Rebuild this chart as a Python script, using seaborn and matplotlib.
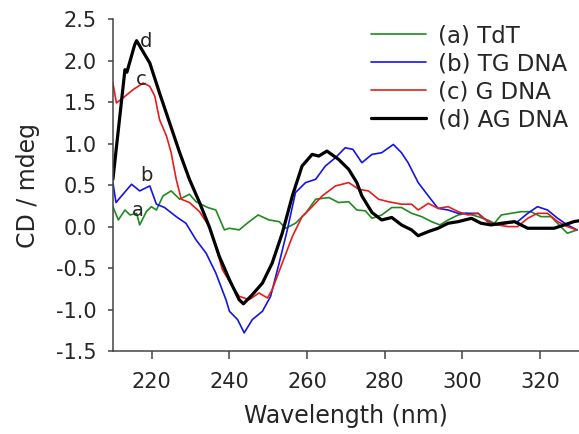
import matplotlib
matplotlib.use('Agg')
import matplotlib.pyplot as plt
import pandas as pd
import seaborn as sns

# (a) TdT
tdt_wl = [210, 211.4, 213.1, 214.4, 216.1, 216.9, 218.6, 219.9, 221.2, 222.9, 225, 227.2, 229.7, 231.4,
          234.4, 236.5, 238.7, 240, 242.5, 245.1, 247.4, 250.2, 252.8, 254.5, 257, 259.6, 262.2, 265.6,
          268.1, 270.7, 272.8, 275, 276.7, 279.2, 281.8, 284.3, 286.9, 289.5, 292, 294.2, 296.3, 298.9,
          301, 304, 306.5, 308.2, 310, 312.5, 315.1, 317.6, 320.2, 322.8, 325.3, 327, 329.5]
tdt_cd = [0.24, 0.08, 0.20, 0.14, 0.16, 0.02, 0.18, 0.24, 0.20, 0.37, 0.43, 0.33, 0.39, 0.30,
          0.23, 0.20, -0.04, -0.02, -0.04, 0.06, 0.14, 0.08, 0.06, -0.02, 0.04, 0.16, 0.33, 0.35,
          0.29, 0.30, 0.20, 0.19, 0.10, 0.14, 0.23, 0.23, 0.16, 0.12, 0.06, 0.02, 0.08, 0.14,
          0.16, 0.12, 0.08, 0.04, 0.14, 0.16, 0.18, 0.18, 0.12, 0.12, 0.0, -0.08, -0.04]

# (b) TG DNA
tg_wl = [210, 210.8, 212.6, 214.8, 216.9, 219.5, 221.2, 223.3, 226.3, 228.8, 231.4, 234, 236.5, 239.1,
         240, 242.1, 243.8, 245.9, 248.5, 250.6, 252.8, 254.9, 257, 259.6, 262.2, 264.7, 267.3, 269.8,
         271.8, 274.1, 276.7, 279.2, 282.2, 284.3, 286, 288.6, 291.2, 293.7, 296.3, 298.9, 301.4, 304,
         306.5, 309.1, 311.7, 314.2, 316.8, 319.3, 321.9, 324.5, 327, 329.5]
tg_cd = [0.53, 0.29, 0.39, 0.51, 0.43, 0.49, 0.27, 0.23, 0.12, 0.04, -0.16, -0.32, -0.56, -0.88,
         -1.02, -1.12, -1.28, -1.12, -1.02, -0.84, -0.44, -0.04, 0.41, 0.53, 0.57, 0.73, 0.83, 0.95,
         0.93, 0.77, 0.87, 0.89, 0.99, 0.89, 0.77, 0.53, 0.37, 0.22, 0.20, 0.16, 0.16, 0.16,
         0.06, 0.02, 0.04, 0.06, 0.16, 0.24, 0.20, 0.10, 0.02, -0.04]

# (c) G DNA
g_wl = [210, 210.9, 212.6, 215.2, 217.8, 219.5, 220.8, 222, 223.8, 225, 226.3, 227.6, 229.7, 232.3,
        234.8, 236.5, 238.2, 240.8, 242.5, 245.1, 247.6, 249.8, 251, 253.6, 256.2, 258.7, 261.3, 263.9,
        267.3, 270.7, 273.3, 275.8, 278.4, 280.9, 284.3, 286.9, 288.6, 291.2, 293.7, 296.3, 298.9, 301.4,
        304, 306.5, 309.1, 311.7, 314.2, 316.8, 319.3, 321.9, 324.5, 327, 329.5]
g_cd = [1.73, 1.49, 1.55, 1.65, 1.73, 1.69, 1.57, 1.29, 1.09, 0.89, 0.57, 0.33, 0.29, 0.18,
        0.0, -0.24, -0.52, -0.72, -0.84, -0.88, -0.80, -0.86, -0.76, -0.44, -0.12, 0.12, 0.24, 0.37,
        0.49, 0.53, 0.45, 0.43, 0.33, 0.30, 0.27, 0.27, 0.20, 0.28, 0.22, 0.24, 0.18, 0.14,
        0.16, 0.06, 0.02, 0.0, 0.0, 0.10, 0.16, 0.16, 0.06, 0.0, -0.04]

# (d) AG DNA
ag_wl = [210, 213.1, 213.6, 215.6, 216.1, 219.5, 222, 224.6, 227.2, 229.7, 232.3, 234.8, 237.4, 240,
         242.5, 243.6, 245.9, 248.5, 251, 253.6, 256.2, 258.7, 261.3, 263, 265.1, 268.1, 270.7, 272.8,
         274.1, 276.7, 279.2, 281.8, 284.3, 286.9, 288.6, 291.2, 293.7, 296.3, 298.9, 302.3, 304.8, 307.4,
         310, 313.4, 316.8, 320.2, 323.6, 326.2, 328.7, 330]
ag_cd = [0.57, 1.89, 1.86, 2.19, 2.24, 1.97, 1.61, 1.25, 0.89, 0.57, 0.29, 0.0, -0.36, -0.64,
         -0.88, -0.93, -0.82, -0.68, -0.44, -0.08, 0.37, 0.73, 0.87, 0.85, 0.91, 0.81, 0.69, 0.53,
         0.37, 0.17, 0.08, 0.11, 0.02, -0.04, -0.11, -0.06, -0.02, 0.04, 0.06, 0.10, 0.04, 0.02,
         0.04, 0.06, -0.02, -0.02, -0.02, 0.02, 0.06, 0.07]

labels = ['(a) TdT', '(b) TG DNA', '(c) G DNA', '(d) AG DNA']
colors = ['#1f8a1f', '#1414e6', '#e81c1c', 'black']
widths = [1.2, 1.2, 1.2, 2.3]
# curve letters near the left peaks
letters = ['a', 'b', 'c', 'd']
letter_pos = [(216.5, 0.20), (218.6, 0.61), (217.3, 1.77), (218.6, 2.23)]

series = [(tdt_wl, tdt_cd), (tg_wl, tg_cd), (g_wl, g_cd), (ag_wl, ag_cd)]

sns.set_style('ticks')
plt.rcParams['font.family'] = ['DejaVu Sans']

fig = plt.figure(figsize=(5.79, 4.34), dpi=100)
ax = fig.add_axes([0.195, 0.191, 0.805, 0.765])

for (wl, cd), lab, col, lw in zip(series, labels, colors, widths):
    df = pd.DataFrame({'wl': wl, 'cd': cd})
    sns.lineplot(data=df, x='wl', y='cd', color=col, lw=lw, label=lab, ax=ax,
                 sort=False, estimator=None)

for t, (x, y) in zip(letters, letter_pos):
    ax.text(x, y, t, fontsize=14, ha='center', va='center')

ax.set_xlim(210, 330)
ax.set_ylim(-1.5, 2.5)
ax.set_xticks([220, 240, 260, 280, 300, 320])
ax.set_yticks([-1.5, -1.0, -0.5, 0.0, 0.5, 1.0, 1.5, 2.0, 2.5])
ax.set_yticklabels([f'{v:.1f}' for v in ax.get_yticks()])
ax.tick_params(labelsize=15, width=1.1, color='#444444')
ax.tick_params(axis='x', length=6, pad=9)
ax.tick_params(axis='y', length=3.6, pad=8)
ax.set_xlabel('Wavelength (nm)', fontsize=17, labelpad=9)
ax.set_ylabel('CD / mdeg', fontsize=17, labelpad=12)
sns.despine(ax=ax)
for s in ['left', 'bottom']:
    ax.spines[s].set_color('#444444')
    ax.spines[s].set_linewidth(1.1)

ax.legend(loc='upper left', bbox_to_anchor=(0.641, 0.944), bbox_transform=fig.transFigure,
          frameon=False, fontsize=16.5, handlelength=2.4, handletextpad=0.52,
          labelspacing=0.22, borderpad=0, borderaxespad=0)

fig.savefig('out.png', dpi=100)
